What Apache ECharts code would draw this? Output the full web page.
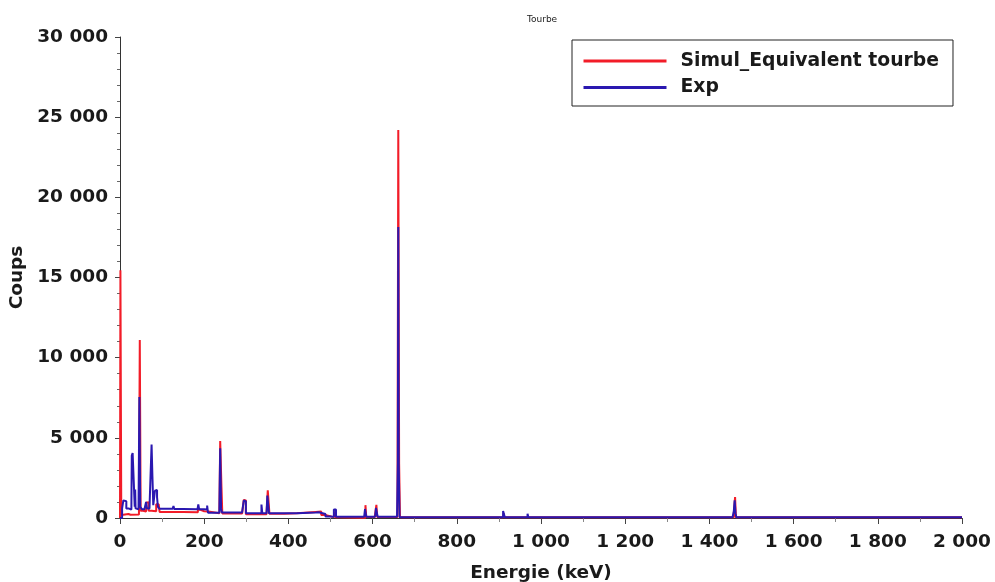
<!DOCTYPE html>
<html>
<head>
<meta charset="utf-8">
<title>Tourbe</title>
<script src="https://cdn.jsdelivr.net/npm/echarts@6/dist/echarts.min.js"></script>
<style>
  html, body { margin: 0; padding: 0; background: #ffffff; }
  #chart { width: 995px; height: 582px; }
</style>
</head>
<body>
<div id="chart"></div>
<script>
// Gamma spectrum of the peat sample: simulation vs. measurement (keV, counts).
// Each count holds from its energy up to the next listed energy (histogram steps).
const simEnergy = [0, 1, 3, 8, 20, 25, 45, 47, 49, 55, 62, 66, 68, 75, 86, 92, 94, 120, 150, 185, 190, 200, 210, 236, 238, 241, 243, 290, 294, 297, 299, 330, 348, 351, 353, 355, 390, 420, 465, 478, 490, 505, 510, 512, 520, 575, 583, 585, 605, 609, 611, 659, 661, 663, 665, 700, 911, 913, 1120, 1122, 1458, 1461, 1463, 2000];
const simCounts = [0, 15450, 200, 250, 200, 220, 400, 11100, 450, 400, 950, 980, 450, 420, 850, 900, 380, 370, 360, 520, 420, 400, 290, 300, 4800, 1950, 280, 270, 1130, 1100, 230, 230, 250, 1730, 1700, 260, 290, 380, 400, 180, 70, 80, 400, 40, 10, 10, 800, 60, 60, 820, 60, 50, 24200, 3400, 40, 40, 300, 40, 150, 40, 300, 1300, 40, 30];

const expEnergy = [0, 3, 5, 8, 12, 15, 20, 27, 28, 30, 33, 34, 35, 36, 37, 40, 44, 46, 48, 52, 58, 62, 64, 70, 74, 75, 77, 79, 83, 86, 88, 90, 94, 125, 127, 129, 150, 184, 186, 188, 200, 207, 209, 230, 236, 238, 240, 242, 290, 294, 297, 299, 330, 336, 338, 348, 350, 352, 354, 390, 420, 465, 472, 488, 500, 508, 511, 513, 580, 582, 585, 606, 608, 610, 612, 658, 660, 661, 662, 664, 700, 727, 729, 768, 770, 850, 910, 912, 914, 968, 970, 1120, 1122, 1238, 1240, 1455, 1458, 1460, 1462, 1464, 1764, 1766, 2000];
const expCounts = [0, 0, 600, 1100, 1050, 600, 530, 530, 3900, 4050, 4100, 4000, 700, 1780, 600, 550, 600, 7550, 700, 550, 600, 1000, 600, 550, 600, 4580, 2600, 800, 1700, 1750, 1300, 700, 570, 560, 740, 560, 540, 540, 850, 540, 530, 780, 330, 320, 350, 4350, 600, 350, 350, 1090, 1050, 300, 290, 840, 290, 300, 1400, 1400, 290, 290, 350, 360, 250, 100, 70, 530, 530, 80, 80, 560, 80, 80, 620, 620, 80, 60, 3450, 18150, 3450, 50, 50, 150, 50, 110, 50, 50, 430, 420, 50, 260, 50, 110, 45, 90, 45, 40, 430, 1100, 300, 40, 80, 40, 30];

const seriesNames = ['Simul_Equivalent tourbe', 'Exp'];
const seriesColors = ['#f21c28', '#2a18b0'];

const pairs = (xs, ys) => xs.map((x, i) => [x, ys[i]]);
const spaced = v => String(Math.round(v)).replace(/\B(?=(\d{3})+(?!\d))/g, ' ');

const chart = echarts.init(document.getElementById('chart'), null, { renderer: 'canvas' });
const axisFont = { fontFamily: 'DejaVu Sans', fontWeight: 'bold', fontSize: 18.5, color: '#1a1a1a' };

chart.setOption({
  animation: false,
  backgroundColor: '#ffffff',
  title: {
    text: 'Tourbe',
    left: 522, top: 10,
    textStyle: { fontFamily: 'DejaVu Sans', fontSize: 9, fontWeight: 'normal', color: '#222' }
  },
  grid: { left: 120, right: 33, top: 37, bottom: 64, outerBoundsMode: 'none', containLabel: false },
  legend: {
    orient: 'vertical',
    left: 572, top: 40,
    padding: [11.5, 14, 9, 11.5],
    itemGap: 7.5,
    itemWidth: 83, itemHeight: 3,
    icon: 'rect',
    borderColor: '#222', borderWidth: 1,
    backgroundColor: '#ffffff',
    textStyle: Object.assign({}, axisFont, { fontSize: 18.8, padding: [0, 0, 0, 9] }),
    data: seriesNames
  },
  xAxis: {
    type: 'value',
    min: 0, max: 2000, interval: 200,
    name: 'Energie (keV)',
    nameLocation: 'middle', nameGap: 46,
    nameTextStyle: axisFont,
    axisLine: { show: true, lineStyle: { color: '#333', width: 1 } },
    axisTick: { show: true, length: 6, lineStyle: { color: '#444' } },
    minorTick: { show: true, splitNumber: 2, length: 4, lineStyle: { color: '#888' } },
    splitLine: { show: false },
    axisLabel: Object.assign({ margin: 15, formatter: spaced }, axisFont)
  },
  yAxis: {
    type: 'value',
    min: 0, max: 30000, interval: 5000,
    name: 'Coups',
    nameLocation: 'middle', nameGap: 87,
    nameTextStyle: axisFont,
    axisLine: { show: true, lineStyle: { color: '#333', width: 1 } },
    axisTick: { show: true, length: 5, lineStyle: { color: '#444' } },
    minorTick: { show: true, splitNumber: 5, length: 3, lineStyle: { color: '#666' } },
    splitLine: { show: false },
    axisLabel: Object.assign({ margin: 12, formatter: spaced, padding: [7, 0, 0, 0] }, axisFont)
  },
  series: [
    {
      name: seriesNames[0], type: 'line', step: 'end',
      data: pairs(simEnergy, simCounts),
      showSymbol: false, symbol: 'none',
      lineStyle: { color: seriesColors[0], width: 2 },
      itemStyle: { color: seriesColors[0] },
      z: 2
    },
    {
      name: seriesNames[1], type: 'line', step: 'end',
      data: pairs(expEnergy, expCounts),
      showSymbol: false, symbol: 'none',
      lineStyle: { color: seriesColors[1], width: 2 },
      itemStyle: { color: seriesColors[1] },
      z: 3
    }
  ]
});
</script>
</body>
</html>
